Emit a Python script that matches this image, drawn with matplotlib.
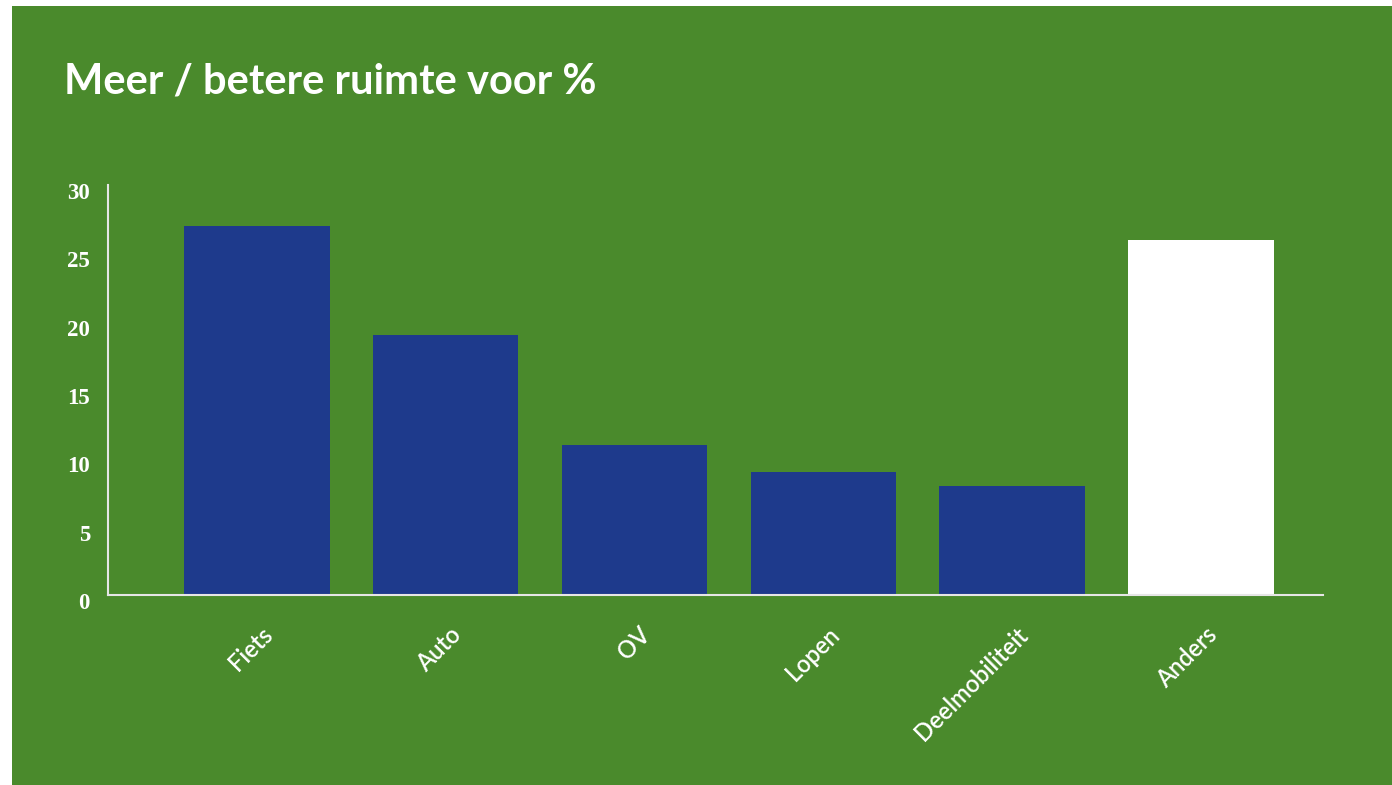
import matplotlib.pyplot as plt
import matplotlib.transforms as mtransforms
from matplotlib.patches import Rectangle

categories = ['Fiets', 'Auto', 'OV', 'Lopen', 'Deelmobiliteit', 'Anders']
values = [27, 19, 11, 9, 8, 26]
bar_colors = ['#1e3a8c', '#1e3a8c', '#1e3a8c', '#1e3a8c', '#1e3a8c', '#ffffff']
yticks = [0, 5, 10, 15, 20, 25, 30]

GREEN = '#4a8a2c'
W, H = 1392, 785


def graph():
    fig = plt.figure(figsize=(W / 100, H / 100), dpi=100, facecolor='white')
    # green panel (white strip on left and top like the reference)
    fig.patches.append(Rectangle((12 / W, 0), 1 - 12 / W, 1 - 6 / H,
                                 transform=fig.transFigure, facecolor=GREEN,
                                 edgecolor='none', zorder=-10))

    ax = fig.add_axes([108 / W, 1 - 595 / H, (1323 - 108) / W, (595 - 185) / H])
    ax.set_zorder(5)
    ax.set_facecolor('none')
    ax.bar(range(len(values)), values, width=0.77, color=bar_colors, zorder=2)
    ax.set_xlim(-0.788, 5.646)
    ax.set_ylim(0, 30)

    for s in ['top', 'right']:
        ax.spines[s].set_visible(False)
    for s in ['left', 'bottom']:
        ax.spines[s].set_color('#e6e6e6')
        ax.spines[s].set_linewidth(1.5)
        ax.spines[s].set_zorder(3)

    ax.set_yticks(yticks)
    ax.set_yticklabels([str(t) for t in yticks], family='Liberation Serif',
                       fontweight='bold', fontsize=16.5, color='white')
    ax.tick_params(axis='y', length=0, pad=13)
    off = mtransforms.ScaledTranslation(0, -6 / 100, fig.dpi_scale_trans)
    for lab in ax.get_yticklabels():
        lab.set_transform(lab.get_transform() + off)

    ax.set_xticks(range(len(categories)))
    ax.set_xticklabels(categories, rotation=45, ha='right', va='center',
                       rotation_mode='anchor', family='Lato', fontweight='semibold',
                       fontsize=17, color='white')
    ax.tick_params(axis='x', length=0, pad=26)
    offx = mtransforms.ScaledTranslation(12 / 100, 0, fig.dpi_scale_trans)
    for lab in ax.get_xticklabels():
        lab.set_transform(lab.get_transform() + offx)

    t = fig.text(64 / W, 1 - 93 / H, 'Meer / betere ruimte voor %', family='Lato',
                 fontweight='bold', fontsize=30, color='white', ha='left',
                 va='baseline')
    t.set_zorder(6)

    fig.savefig('out.png', dpi=100, facecolor='white')


def main():
    graph()


if __name__ == '__main__':
    main()
